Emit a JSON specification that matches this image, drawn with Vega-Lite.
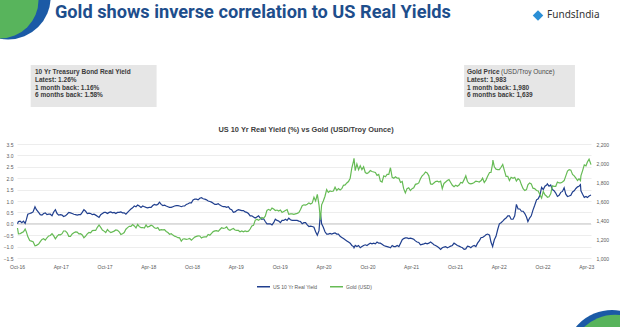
{
  "$schema": "https://vega.github.io/schema/vega-lite/v6.json",
  "width": 574,
  "height": 114,
  "autosize": "none",
  "padding": {"left": 17, "top": 144, "right": 29, "bottom": 69},
  "background": "white",
  "config": {"view": {"stroke": null}, "font": "Liberation Sans"},
  "data": {"values": [
    {"date":"2016-10-03","ry":0.00,"gold":1316},{"date":"2016-10-07","ry":0.10,"gold":1254},{"date":"2016-10-14","ry":0.12,"gold":1255},{"date":"2016-10-21","ry":0.05,"gold":1267},{"date":"2016-10-28","ry":0.12,"gold":1276},
    {"date":"2016-11-04","ry":0.02,"gold":1304},{"date":"2016-11-09","ry":0.18,"gold":1275},{"date":"2016-11-15","ry":0.42,"gold":1225},{"date":"2016-11-23","ry":0.45,"gold":1184},{"date":"2016-11-30","ry":0.48,"gold":1178},
    {"date":"2016-12-07","ry":0.52,"gold":1171},{"date":"2016-12-15","ry":0.75,"gold":1128},{"date":"2016-12-21","ry":0.62,"gold":1133},{"date":"2016-12-30","ry":0.50,"gold":1146},
    {"date":"2017-01-06","ry":0.40,"gold":1172},{"date":"2017-01-13","ry":0.38,"gold":1196},{"date":"2017-01-20","ry":0.45,"gold":1203},{"date":"2017-01-27","ry":0.48,"gold":1188},
    {"date":"2017-02-03","ry":0.40,"gold":1213},{"date":"2017-02-10","ry":0.42,"gold":1232},{"date":"2017-02-17","ry":0.42,"gold":1237},{"date":"2017-02-24","ry":0.35,"gold":1257},
    {"date":"2017-03-03","ry":0.52,"gold":1233},{"date":"2017-03-10","ry":0.62,"gold":1201},{"date":"2017-03-17","ry":0.45,"gold":1228},{"date":"2017-03-24","ry":0.38,"gold":1247},{"date":"2017-03-31","ry":0.40,"gold":1244},
    {"date":"2017-04-07","ry":0.38,"gold":1256},{"date":"2017-04-13","ry":0.32,"gold":1284},{"date":"2017-04-21","ry":0.35,"gold":1284},{"date":"2017-04-28","ry":0.42,"gold":1266},
    {"date":"2017-05-05","ry":0.50,"gold":1228},{"date":"2017-05-12","ry":0.48,"gold":1227},{"date":"2017-05-19","ry":0.45,"gold":1253},{"date":"2017-05-26","ry":0.42,"gold":1266},
    {"date":"2017-06-02","ry":0.40,"gold":1275},{"date":"2017-06-09","ry":0.38,"gold":1272},{"date":"2017-06-16","ry":0.40,"gold":1253},{"date":"2017-06-23","ry":0.40,"gold":1256},{"date":"2017-06-30","ry":0.50,"gold":1242},
    {"date":"2017-07-07","ry":0.62,"gold":1213},{"date":"2017-07-14","ry":0.55,"gold":1230},{"date":"2017-07-21","ry":0.45,"gold":1254},{"date":"2017-07-28","ry":0.47,"gold":1269},
    {"date":"2017-08-04","ry":0.45,"gold":1264},{"date":"2017-08-11","ry":0.40,"gold":1288},{"date":"2017-08-18","ry":0.42,"gold":1290},{"date":"2017-08-25","ry":0.38,"gold":1290},
    {"date":"2017-09-01","ry":0.33,"gold":1323},{"date":"2017-09-08","ry":0.28,"gold":1348},{"date":"2017-09-15","ry":0.40,"gold":1322},{"date":"2017-09-22","ry":0.45,"gold":1295},{"date":"2017-09-29","ry":0.50,"gold":1283},
    {"date":"2017-10-06","ry":0.50,"gold":1268},{"date":"2017-10-13","ry":0.45,"gold":1300},{"date":"2017-10-20","ry":0.50,"gold":1280},{"date":"2017-10-27","ry":0.52,"gold":1268},
    {"date":"2017-11-03","ry":0.48,"gold":1275},{"date":"2017-11-10","ry":0.50,"gold":1283},{"date":"2017-11-17","ry":0.45,"gold":1295},{"date":"2017-11-24","ry":0.50,"gold":1292},
    {"date":"2017-12-01","ry":0.50,"gold":1276},{"date":"2017-12-08","ry":0.52,"gold":1248},{"date":"2017-12-15","ry":0.48,"gold":1255},{"date":"2017-12-22","ry":0.48,"gold":1268},{"date":"2017-12-29","ry":0.42,"gold":1303},
    {"date":"2018-01-05","ry":0.50,"gold":1320},{"date":"2018-01-12","ry":0.58,"gold":1333},{"date":"2018-01-19","ry":0.65,"gold":1332},{"date":"2018-01-26","ry":0.70,"gold":1352},
    {"date":"2018-02-02","ry":0.78,"gold":1337},{"date":"2018-02-09","ry":0.75,"gold":1316},{"date":"2018-02-16","ry":0.82,"gold":1353},{"date":"2018-02-23","ry":0.78,"gold":1330},
    {"date":"2018-03-02","ry":0.72,"gold":1320},{"date":"2018-03-09","ry":0.78,"gold":1321},{"date":"2018-03-16","ry":0.75,"gold":1315},{"date":"2018-03-23","ry":0.72,"gold":1348},{"date":"2018-03-29","ry":0.70,"gold":1325},
    {"date":"2018-04-06","ry":0.72,"gold":1333},{"date":"2018-04-13","ry":0.72,"gold":1345},{"date":"2018-04-20","ry":0.80,"gold":1337},{"date":"2018-04-27","ry":0.85,"gold":1318},
    {"date":"2018-05-04","ry":0.82,"gold":1311},{"date":"2018-05-11","ry":0.85,"gold":1320},{"date":"2018-05-18","ry":0.95,"gold":1291},{"date":"2018-05-25","ry":0.85,"gold":1298},
    {"date":"2018-06-01","ry":0.80,"gold":1297},{"date":"2018-06-08","ry":0.82,"gold":1298},{"date":"2018-06-15","ry":0.78,"gold":1279},{"date":"2018-06-22","ry":0.75,"gold":1268},{"date":"2018-06-29","ry":0.72,"gold":1250},
    {"date":"2018-07-06","ry":0.72,"gold":1256},{"date":"2018-07-13","ry":0.75,"gold":1241},{"date":"2018-07-20","ry":0.78,"gold":1230},{"date":"2018-07-27","ry":0.80,"gold":1223},
    {"date":"2018-08-03","ry":0.80,"gold":1214},{"date":"2018-08-10","ry":0.78,"gold":1212},{"date":"2018-08-17","ry":0.75,"gold":1177},{"date":"2018-08-24","ry":0.78,"gold":1200},{"date":"2018-08-31","ry":0.78,"gold":1201},
    {"date":"2018-09-07","ry":0.85,"gold":1196},{"date":"2018-09-14","ry":0.88,"gold":1200},{"date":"2018-09-21","ry":0.92,"gold":1205},{"date":"2018-09-28","ry":0.92,"gold":1187},
    {"date":"2018-10-05","ry":1.05,"gold":1204},{"date":"2018-10-12","ry":1.08,"gold":1220},{"date":"2018-10-19","ry":1.08,"gold":1227},{"date":"2018-10-26","ry":1.05,"gold":1233},
    {"date":"2018-11-02","ry":1.12,"gold":1232},{"date":"2018-11-09","ry":1.15,"gold":1210},{"date":"2018-11-16","ry":1.10,"gold":1220},{"date":"2018-11-23","ry":1.08,"gold":1223},{"date":"2018-11-30","ry":1.05,"gold":1222},
    {"date":"2018-12-07","ry":1.00,"gold":1248},{"date":"2018-12-14","ry":0.98,"gold":1240},{"date":"2018-12-21","ry":0.95,"gold":1260},{"date":"2018-12-28","ry":0.90,"gold":1278},
    {"date":"2019-01-04","ry":0.85,"gold":1285},{"date":"2019-01-11","ry":0.85,"gold":1288},{"date":"2019-01-18","ry":0.88,"gold":1281},{"date":"2019-01-25","ry":0.82,"gold":1300},
    {"date":"2019-02-01","ry":0.78,"gold":1318},{"date":"2019-02-08","ry":0.75,"gold":1312},{"date":"2019-02-15","ry":0.75,"gold":1316},{"date":"2019-02-22","ry":0.72,"gold":1327},
    {"date":"2019-03-01","ry":0.75,"gold":1300},{"date":"2019-03-08","ry":0.65,"gold":1292},{"date":"2019-03-15","ry":0.62,"gold":1302},{"date":"2019-03-22","ry":0.50,"gold":1311},{"date":"2019-03-29","ry":0.52,"gold":1295},
    {"date":"2019-04-05","ry":0.58,"gold":1291},{"date":"2019-04-12","ry":0.62,"gold":1290},{"date":"2019-04-19","ry":0.60,"gold":1275},{"date":"2019-04-26","ry":0.58,"gold":1284},
    {"date":"2019-05-03","ry":0.58,"gold":1275},{"date":"2019-05-10","ry":0.52,"gold":1285},{"date":"2019-05-17","ry":0.50,"gold":1278},{"date":"2019-05-24","ry":0.45,"gold":1283},{"date":"2019-05-31","ry":0.35,"gold":1305},
    {"date":"2019-06-07","ry":0.35,"gold":1338},{"date":"2019-06-14","ry":0.30,"gold":1344},{"date":"2019-06-21","ry":0.25,"gold":1396},{"date":"2019-06-28","ry":0.30,"gold":1409},
    {"date":"2019-07-05","ry":0.35,"gold":1398},{"date":"2019-07-12","ry":0.25,"gold":1409},{"date":"2019-07-19","ry":0.20,"gold":1426},{"date":"2019-07-26","ry":0.22,"gold":1418},
    {"date":"2019-08-02","ry":0.10,"gold":1440},{"date":"2019-08-09","ry":0.00,"gold":1501},{"date":"2019-08-16","ry":0.00,"gold":1512},{"date":"2019-08-23","ry":0.00,"gold":1500},{"date":"2019-08-30","ry":-0.05,"gold":1525},
    {"date":"2019-09-06","ry":0.05,"gold":1515},{"date":"2019-09-13","ry":0.20,"gold":1500},{"date":"2019-09-20","ry":0.15,"gold":1505},{"date":"2019-09-27","ry":0.12,"gold":1495},
    {"date":"2019-10-04","ry":0.05,"gold":1505},{"date":"2019-10-11","ry":0.15,"gold":1480},{"date":"2019-10-18","ry":0.15,"gold":1490},{"date":"2019-10-25","ry":0.20,"gold":1500},
    {"date":"2019-11-01","ry":0.15,"gold":1510},{"date":"2019-11-08","ry":0.25,"gold":1460},{"date":"2019-11-15","ry":0.18,"gold":1465},{"date":"2019-11-22","ry":0.15,"gold":1465},{"date":"2019-11-29","ry":0.15,"gold":1460},
    {"date":"2019-12-06","ry":0.15,"gold":1465},{"date":"2019-12-13","ry":0.15,"gold":1470},{"date":"2019-12-20","ry":0.12,"gold":1478},{"date":"2019-12-27","ry":0.10,"gold":1510},
    {"date":"2020-01-03","ry":0.00,"gold":1550},{"date":"2020-01-10","ry":0.05,"gold":1560},{"date":"2020-01-17","ry":0.05,"gold":1557},{"date":"2020-01-24","ry":-0.05,"gold":1565},{"date":"2020-01-31","ry":-0.12,"gold":1580},
    {"date":"2020-02-07","ry":-0.10,"gold":1568},{"date":"2020-02-14","ry":-0.12,"gold":1580},{"date":"2020-02-21","ry":-0.15,"gold":1640},{"date":"2020-02-28","ry":-0.35,"gold":1600},
    {"date":"2020-03-06","ry":-0.50,"gold":1670},{"date":"2020-03-13","ry":-0.30,"gold":1560},{"date":"2020-03-19","ry":0.45,"gold":1400},{"date":"2020-03-24","ry":0.00,"gold":1560},{"date":"2020-03-31","ry":-0.15,"gold":1600},
    {"date":"2020-04-07","ry":-0.35,"gold":1650},{"date":"2020-04-14","ry":-0.45,"gold":1720},{"date":"2020-04-21","ry":-0.45,"gold":1690},{"date":"2020-04-28","ry":-0.42,"gold":1705},
    {"date":"2020-05-05","ry":-0.45,"gold":1700},{"date":"2020-05-12","ry":-0.42,"gold":1705},{"date":"2020-05-19","ry":-0.40,"gold":1745},{"date":"2020-05-26","ry":-0.45,"gold":1710},
    {"date":"2020-06-02","ry":-0.45,"gold":1730},{"date":"2020-06-09","ry":-0.55,"gold":1715},{"date":"2020-06-16","ry":-0.60,"gold":1730},{"date":"2020-06-23","ry":-0.65,"gold":1765},{"date":"2020-06-30","ry":-0.70,"gold":1770},
    {"date":"2020-07-07","ry":-0.75,"gold":1790},{"date":"2020-07-14","ry":-0.80,"gold":1805},{"date":"2020-07-21","ry":-0.85,"gold":1840},{"date":"2020-07-28","ry":-0.95,"gold":1950},
    {"date":"2020-08-04","ry":-1.00,"gold":2020},{"date":"2020-08-06","ry":-1.05,"gold":2049},{"date":"2020-08-11","ry":-0.95,"gold":1920},{"date":"2020-08-18","ry":-1.00,"gold":1990},{"date":"2020-08-25","ry":-0.95,"gold":1930},
    {"date":"2020-09-01","ry":-1.05,"gold":1970},{"date":"2020-09-08","ry":-1.00,"gold":1930},{"date":"2020-09-15","ry":-0.95,"gold":1960},{"date":"2020-09-22","ry":-0.92,"gold":1900},{"date":"2020-09-29","ry":-0.95,"gold":1890},
    {"date":"2020-10-06","ry":-0.90,"gold":1900},{"date":"2020-10-13","ry":-0.85,"gold":1920},{"date":"2020-10-20","ry":-0.88,"gold":1910},{"date":"2020-10-27","ry":-0.85,"gold":1905},
    {"date":"2020-11-03","ry":-0.88,"gold":1900},{"date":"2020-11-10","ry":-0.80,"gold":1870},{"date":"2020-11-17","ry":-0.85,"gold":1880},{"date":"2020-11-24","ry":-0.85,"gold":1810},
    {"date":"2020-12-01","ry":-0.90,"gold":1800},{"date":"2020-12-08","ry":-0.95,"gold":1865},{"date":"2020-12-15","ry":-0.98,"gold":1855},{"date":"2020-12-22","ry":-1.00,"gold":1880},{"date":"2020-12-29","ry":-1.02,"gold":1880},
    {"date":"2021-01-05","ry":-1.05,"gold":1950},{"date":"2021-01-12","ry":-0.95,"gold":1850},{"date":"2021-01-19","ry":-1.00,"gold":1840},{"date":"2021-01-26","ry":-1.00,"gold":1855},
    {"date":"2021-02-02","ry":-0.95,"gold":1840},{"date":"2021-02-09","ry":-1.00,"gold":1840},{"date":"2021-02-16","ry":-0.85,"gold":1795},{"date":"2021-02-23","ry":-0.70,"gold":1805},
    {"date":"2021-03-01","ry":-0.65,"gold":1730},{"date":"2021-03-08","ry":-0.62,"gold":1685},{"date":"2021-03-15","ry":-0.62,"gold":1730},{"date":"2021-03-22","ry":-0.65,"gold":1740},{"date":"2021-03-29","ry":-0.63,"gold":1710},
    {"date":"2021-04-05","ry":-0.65,"gold":1730},{"date":"2021-04-12","ry":-0.68,"gold":1740},{"date":"2021-04-19","ry":-0.75,"gold":1775},{"date":"2021-04-26","ry":-0.80,"gold":1780},
    {"date":"2021-05-03","ry":-0.82,"gold":1790},{"date":"2021-05-10","ry":-0.92,"gold":1835},{"date":"2021-05-17","ry":-0.90,"gold":1865},{"date":"2021-05-24","ry":-0.88,"gold":1880},{"date":"2021-05-31","ry":-0.85,"gold":1905},
    {"date":"2021-06-07","ry":-0.88,"gold":1895},{"date":"2021-06-14","ry":-0.85,"gold":1865},{"date":"2021-06-21","ry":-0.80,"gold":1780},{"date":"2021-06-28","ry":-0.85,"gold":1775},
    {"date":"2021-07-05","ry":-0.92,"gold":1790},{"date":"2021-07-12","ry":-0.95,"gold":1805},{"date":"2021-07-19","ry":-1.00,"gold":1810},{"date":"2021-07-26","ry":-1.05,"gold":1800},
    {"date":"2021-08-02","ry":-1.12,"gold":1810},{"date":"2021-08-09","ry":-1.05,"gold":1730},{"date":"2021-08-16","ry":-1.02,"gold":1785},{"date":"2021-08-23","ry":-1.00,"gold":1800},{"date":"2021-08-30","ry":-1.05,"gold":1815},
    {"date":"2021-09-06","ry":-1.02,"gold":1825},{"date":"2021-09-13","ry":-0.98,"gold":1795},{"date":"2021-09-20","ry":-0.95,"gold":1765},{"date":"2021-09-27","ry":-0.85,"gold":1750},
    {"date":"2021-10-04","ry":-0.90,"gold":1765},{"date":"2021-10-11","ry":-0.95,"gold":1755},{"date":"2021-10-18","ry":-0.98,"gold":1768},{"date":"2021-10-25","ry":-1.02,"gold":1795},
    {"date":"2021-11-01","ry":-1.05,"gold":1790},{"date":"2021-11-08","ry":-1.12,"gold":1825},{"date":"2021-11-15","ry":-1.10,"gold":1865},{"date":"2021-11-22","ry":-0.98,"gold":1805},{"date":"2021-11-29","ry":-1.00,"gold":1785},
    {"date":"2021-12-06","ry":-1.05,"gold":1780},{"date":"2021-12-13","ry":-0.98,"gold":1785},{"date":"2021-12-20","ry":-0.95,"gold":1795},{"date":"2021-12-27","ry":-1.00,"gold":1810},
    {"date":"2022-01-03","ry":-0.85,"gold":1805},{"date":"2022-01-10","ry":-0.75,"gold":1800},{"date":"2022-01-18","ry":-0.60,"gold":1815},{"date":"2022-01-24","ry":-0.60,"gold":1840},{"date":"2022-01-31","ry":-0.55,"gold":1795},
    {"date":"2022-02-07","ry":-0.48,"gold":1820},{"date":"2022-02-14","ry":-0.45,"gold":1860},{"date":"2022-02-22","ry":-0.50,"gold":1900},{"date":"2022-02-28","ry":-0.80,"gold":1900},
    {"date":"2022-03-07","ry":-1.00,"gold":1995},{"date":"2022-03-08","ry":-0.95,"gold":2030},{"date":"2022-03-14","ry":-0.70,"gold":1960},{"date":"2022-03-21","ry":-0.55,"gold":1935},{"date":"2022-03-28","ry":-0.25,"gold":1930},
    {"date":"2022-04-04","ry":0.00,"gold":1930},{"date":"2022-04-11","ry":0.05,"gold":1955},{"date":"2022-04-18","ry":0.12,"gold":1985},{"date":"2022-04-25","ry":0.20,"gold":1920},
    {"date":"2022-05-02","ry":0.25,"gold":1860},{"date":"2022-05-09","ry":0.35,"gold":1860},{"date":"2022-05-16","ry":0.35,"gold":1815},{"date":"2022-05-23","ry":0.20,"gold":1850},{"date":"2022-05-31","ry":0.20,"gold":1840},
    {"date":"2022-06-07","ry":0.35,"gold":1850},{"date":"2022-06-14","ry":0.85,"gold":1810},{"date":"2022-06-21","ry":0.65,"gold":1835},{"date":"2022-06-28","ry":0.65,"gold":1820},
    {"date":"2022-07-05","ry":0.55,"gold":1770},{"date":"2022-07-12","ry":0.55,"gold":1730},{"date":"2022-07-19","ry":0.45,"gold":1710},{"date":"2022-07-26","ry":0.30,"gold":1720},
    {"date":"2022-08-01","ry":0.10,"gold":1770},{"date":"2022-08-08","ry":0.25,"gold":1790},{"date":"2022-08-15","ry":0.35,"gold":1780},{"date":"2022-08-22","ry":0.60,"gold":1735},{"date":"2022-08-29","ry":0.80,"gold":1730},
    {"date":"2022-09-06","ry":1.05,"gold":1710},{"date":"2022-09-13","ry":1.10,"gold":1705},{"date":"2022-09-20","ry":1.25,"gold":1665},{"date":"2022-09-27","ry":1.60,"gold":1630},
    {"date":"2022-10-04","ry":1.50,"gold":1700},{"date":"2022-10-11","ry":1.65,"gold":1665},{"date":"2022-10-18","ry":1.70,"gold":1650},{"date":"2022-10-21","ry":1.75,"gold":1640},{"date":"2022-10-28","ry":1.65,"gold":1645},
    {"date":"2022-11-04","ry":1.70,"gold":1675},{"date":"2022-11-11","ry":1.50,"gold":1760},{"date":"2022-11-18","ry":1.45,"gold":1755},{"date":"2022-11-25","ry":1.35,"gold":1755},
    {"date":"2022-12-02","ry":1.20,"gold":1800},{"date":"2022-12-09","ry":1.25,"gold":1790},{"date":"2022-12-16","ry":1.38,"gold":1790},{"date":"2022-12-23","ry":1.42,"gold":1800},{"date":"2022-12-30","ry":1.58,"gold":1815},
    {"date":"2023-01-06","ry":1.30,"gold":1865},{"date":"2023-01-13","ry":1.20,"gold":1915},{"date":"2023-01-20","ry":1.22,"gold":1930},{"date":"2023-01-27","ry":1.25,"gold":1925},
    {"date":"2023-02-03","ry":1.40,"gold":1880},{"date":"2023-02-10","ry":1.45,"gold":1865},{"date":"2023-02-17","ry":1.55,"gold":1840},{"date":"2023-02-24","ry":1.62,"gold":1815},
    {"date":"2023-03-02","ry":1.65,"gold":1835},{"date":"2023-03-08","ry":1.72,"gold":1815},{"date":"2023-03-10","ry":1.45,"gold":1865},{"date":"2023-03-17","ry":1.30,"gold":1920},{"date":"2023-03-24","ry":1.16,"gold":1980},{"date":"2023-03-31","ry":1.20,"gold":1970},
    {"date":"2023-04-06","ry":1.15,"gold":2010},{"date":"2023-04-13","ry":1.22,"gold":2040},{"date":"2023-04-21","ry":1.26,"gold":1983}
  ]},
  "layer": [
    {
      "layer": [
        {
          "data": {"values": [{}]},
          "mark": {"type": "point", "shape": "circle", "filled": true, "opacity": 1, "color": "#1b5aa6", "size": 7238},
          "encoding": {
            "x": {"datum": {"year": 2016, "month": 8, "date": 25, "utc": true}, "type": "temporal"},
            "y": {"datum": 9.947, "type": "quantitative"}
          }
        },
        {
          "data": {"values": [{}]},
          "mark": {"type": "point", "shape": "circle", "filled": true, "opacity": 1, "color": "#58b45c", "size": 5945},
          "encoding": {
            "x": {"datum": {"year": 2016, "month": 7, "date": 22, "utc": true}, "type": "temporal"},
            "y": {"datum": 9.816, "type": "quantitative"}
          }
        },
        {
          "data": {"values": [{}]},
          "mark": {"type": "point", "shape": "circle", "filled": true, "opacity": 1, "color": "#1b5aa6", "size": 8825},
          "encoding": {
            "x": {"datum": {"year": 2023, "month": 7, "date": 18, "utc": true}, "type": "temporal"},
            "y": {"datum": -5.842, "type": "quantitative"}
          }
        },
        {
          "data": {"values": [{}]},
          "mark": {"type": "point", "shape": "circle", "filled": true, "opacity": 1, "color": "#58b45c", "size": 8171},
          "encoding": {
            "x": {"datum": {"year": 2023, "month": 7, "date": 30, "utc": true}, "type": "temporal"},
            "y": {"datum": -5.974, "type": "quantitative"}
          }
        },
        {
          "data": {"values": [{}]},
          "mark": {"type": "text", "text": "Gold shows inverse correlation to US Real Yields", "font": "Roboto", "fontSize": 18.2, "fontWeight": "bold", "color": "#1e4e8c", "align": "left", "baseline": "alphabetic"},
          "encoding": {
            "x": {"datum": {"year": 2017, "month": 3, "date": 8, "utc": true}, "type": "temporal"},
            "y": {"datum": 9.048, "type": "quantitative"}
          }
        },
        {
          "data": {"values": [{}]},
          "mark": {"type": "point", "shape": "diamond", "filled": true, "opacity": 1, "color": "#2a8fd6", "size": 110},
          "encoding": {
            "x": {"datum": {"year": 2022, "month": 9, "date": 12, "utc": true}, "type": "temporal"},
            "y": {"datum": 9.136, "type": "quantitative"}
          }
        },
        {
          "data": {"values": [{}]},
          "mark": {"type": "text", "text": "FundsIndia", "font": "Noto Sans", "fontSize": 10, "color": "#333333", "align": "left", "baseline": "middle"},
          "encoding": {
            "x": {"datum": {"year": 2022, "month": 10, "date": 20, "utc": true}, "type": "temporal"},
            "y": {"datum": 9.158, "type": "quantitative"}
          }
        },
        {
          "data": {"values": [{}]},
          "mark": {"type": "rect", "color": "#e6e6e6"},
          "encoding": {
            "x": {"datum": {"year": 2016, "month": 11, "date": 27, "utc": true}, "type": "temporal"},
            "x2": {"datum": {"year": 2018, "month": 5, "date": 6, "utc": true}},
            "y": {"datum": 6.965, "type": "quantitative"},
            "y2": {"datum": 5.123}
          }
        },
        {
          "data": {"values": [{}]},
          "mark": {"type": "rect", "color": "#e6e6e6"},
          "encoding": {
            "x": {"datum": {"year": 2021, "month": 11, "date": 8, "utc": true}, "type": "temporal"},
            "x2": {"datum": {"year": 2023, "month": 2, "date": 13, "utc": true}},
            "y": {"datum": 6.965, "type": "quantitative"},
            "y2": {"datum": 5.123}
          }
        },
        {
          "data": {"values": [{}]},
          "mark": {"type": "text", "text": ["10 Yr Treasury Bond Real Yield", "Latest: 1.26%", "1 month back: 1.16%", "6 months back: 1.58%"], "fontSize": 6.5, "fontWeight": "bold", "color": "#3a3a3a", "align": "left", "baseline": "top", "lineHeight": 7.8},
          "encoding": {
            "x": {"datum": {"year": 2016, "month": 12, "date": 15, "utc": true}, "type": "temporal"},
            "y": {"datum": 6.789, "type": "quantitative"}
          }
        },
        {
          "data": {"values": [{}]},
          "mark": {"type": "text", "text": ["Gold Price", "Latest: 1,983", "1 month back: 1,980", "6 months back: 1,639"], "fontSize": 6.5, "fontWeight": "bold", "color": "#3a3a3a", "align": "left", "baseline": "top", "lineHeight": 7.8},
          "encoding": {
            "x": {"datum": {"year": 2021, "month": 11, "date": 20, "utc": true}, "type": "temporal"},
            "y": {"datum": 6.789, "type": "quantitative"}
          }
        },
        {
          "data": {"values": [{}]},
          "mark": {"type": "text", "text": "(USD/Troy Ounce)", "fontSize": 6.5, "color": "#4a4a4a", "align": "left", "baseline": "top", "dx": 34},
          "encoding": {
            "x": {"datum": {"year": 2021, "month": 11, "date": 20, "utc": true}, "type": "temporal"},
            "y": {"datum": 6.789, "type": "quantitative"}
          }
        },
        {
          "data": {"values": [{}]},
          "mark": {"type": "text", "text": "US 10 Yr Real Yield (%) vs Gold (USD/Troy Ounce)", "fontSize": 7.4, "fontWeight": "bold", "color": "#404040", "align": "center", "baseline": "middle"},
          "encoding": {
            "x": {"datum": {"year": 2020, "month": 1, "date": 19, "utc": true}, "type": "temporal"},
            "y": {"datum": 4.114, "type": "quantitative"}
          }
        },
        {
          "data": {"values": [{}]},
          "mark": {"type": "rule", "color": "#bfbfbf", "strokeWidth": 0.8},
          "encoding": {"y": {"datum": 0, "type": "quantitative"}}
        },
        {
          "mark": {"type": "line", "strokeWidth": 1.2},
          "encoding": {
            "x": {
              "field": "date", "type": "temporal",
              "scale": {"type": "utc", "domain": [{"year": 2016, "month": 10, "date": 1, "utc": true}, {"year": 2023, "month": 4, "date": 21, "utc": true}]},
              "axis": {
                "title": null, "format": "%b-%y", "labelFontSize": 5, "labelColor": "#595959", "ticks": false, "domain": false, "grid": false, "labelPadding": 6, "labelOverlap": false, "labelFlush": false, "tickCount": 14,
                "values": [
                  {"year": 2016, "month": 10, "date": 1, "utc": true}, {"year": 2017, "month": 4, "date": 1, "utc": true},
                  {"year": 2017, "month": 10, "date": 1, "utc": true}, {"year": 2018, "month": 4, "date": 1, "utc": true},
                  {"year": 2018, "month": 10, "date": 1, "utc": true}, {"year": 2019, "month": 4, "date": 1, "utc": true},
                  {"year": 2019, "month": 10, "date": 1, "utc": true}, {"year": 2020, "month": 4, "date": 1, "utc": true},
                  {"year": 2020, "month": 10, "date": 1, "utc": true}, {"year": 2021, "month": 4, "date": 1, "utc": true},
                  {"year": 2021, "month": 10, "date": 1, "utc": true}, {"year": 2022, "month": 4, "date": 1, "utc": true},
                  {"year": 2022, "month": 10, "date": 1, "utc": true}, {"year": 2023, "month": 4, "date": 1, "utc": true}
                ]
              }
            },
            "y": {
              "field": "ry", "type": "quantitative",
              "scale": {"domain": [-1.5, 3.5], "nice": false, "zero": false},
              "axis": {"title": null, "values": [-1.5, -1, -0.5, 0, 0.5, 1, 1.5, 2, 2.5, 3, 3.5], "tickCount": 11, "format": ".1f", "labelFontSize": 5, "labelColor": "#595959", "ticks": false, "domain": false, "grid": true, "gridColor": "#e8e8e8", "gridWidth": 0.8, "labelPadding": 4, "labelOverlap": false}
            },
            "color": {
              "datum": "US 10 Yr Real Yield",
              "scale": {"domain": ["US 10 Yr Real Yield", "Gold (USD)"], "range": ["#203f8e", "#66bb55"]},
              "legend": {"orient": "none", "legendX": 239, "legendY": 135, "direction": "horizontal", "title": null, "symbolType": "stroke", "symbolSize": 169, "symbolStrokeWidth": 1.5, "labelFontSize": 5, "labelColor": "#595959", "columnPadding": 9, "labelOffset": 2}
            }
          }
        }
      ]
    },
    {
      "mark": {"type": "line", "strokeWidth": 1.2},
      "encoding": {
        "x": {"field": "date", "type": "temporal"},
        "y": {
          "field": "gold", "type": "quantitative",
          "scale": {"domain": [1000, 2200], "nice": false, "zero": false},
          "axis": {"title": null, "orient": "right", "values": [1000, 1200, 1400, 1600, 1800, 2000, 2200], "tickCount": 7, "format": ",.0f", "labelFontSize": 5, "labelColor": "#595959", "ticks": false, "domain": false, "grid": false, "labelPadding": 5}
        },
        "color": {"datum": "Gold (USD)"}
      }
    }
  ],
  "resolve": {"scale": {"y": "independent"}, "axis": {"y": "independent"}}
}
